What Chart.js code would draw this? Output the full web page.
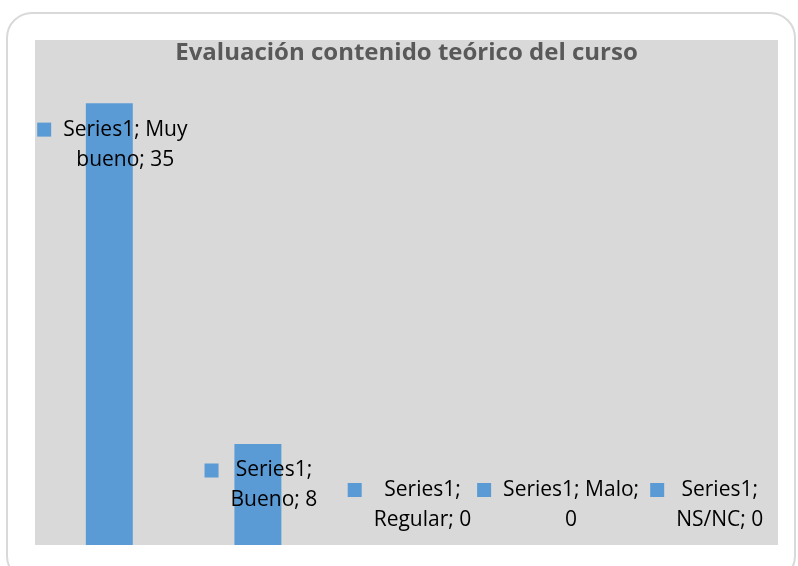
<!DOCTYPE html>
<html>
<head>
<meta charset="utf-8">
<script src="https://cdn.jsdelivr.net/npm/chart.js@4.4.0/dist/chart.umd.min.js"></script>
<style>
  html, body { margin: 0; padding: 0; background: #fff; }
  #wrap { position: relative; width: 798px; height: 566px; overflow: hidden; }
  #marco {
    position: absolute; left: 6px; top: 12px; width: 790px; height: 570px;
    border: 2px solid #d9d9d9; border-radius: 26px; box-sizing: border-box;
  }
  #grafico { position: absolute; left: 0; top: 0; }
</style>
</head>
<body>
<div id="wrap">
  <div id="marco"></div>
  <canvas id="grafico" width="798" height="566"></canvas>
</div>
<script>
var titulo = 'Evaluación contenido teórico del curso';
var serie = 'Series1';
var categorias = ['Muy bueno', 'Bueno', 'Regular', 'Malo', 'NS/NC'];
var valores = [35, 8, 0, 0, 0];

var azul = '#5b9bd5';
var fuenteEtiqueta = '21px "Open Sans"';
var fuenteTitulo = 'bold 24px "Open Sans"';

function partirTexto(ctx, texto, ancho) {
    var palabras = texto.split(' ');
    var lineas = [];
    var actual = '';
    palabras.forEach(function(p) {
        var prueba = actual ? actual + ' ' + p : p;
        if (actual && ctx.measureText(prueba).width > ancho) {
            lineas.push(actual);
            actual = p;
        } else {
            actual = prueba;
        }
    });
    if (actual) lineas.push(actual);
    return lineas;
}

var estiloExcel = {
    id: 'estiloExcel',
    beforeDraw: function(chart) {
        var ctx = chart.ctx;
        var a = chart.chartArea;
        ctx.save();
        ctx.fillStyle = '#d9d9d9';
        ctx.fillRect(a.left, a.top, a.right - a.left, a.bottom - a.top);
        ctx.restore();
    },
    afterDatasetsDraw: function(chart) {
        var ctx = chart.ctx;
        var a = chart.chartArea;
        ctx.save();
        // titulo
        ctx.font = fuenteTitulo;
        ctx.fillStyle = '#595959';
        ctx.textAlign = 'center';
        ctx.textBaseline = 'alphabetic';
        ctx.fillText(titulo, (a.left + a.right) / 2, a.top + 20);

        // etiquetas de datos con clave
        var meta = chart.getDatasetMeta(0);
        var anchoCat = (a.right - a.left) / categorias.length;
        ctx.font = fuenteEtiqueta;
        meta.data.forEach(function(barra, i) {
            var texto = serie + '; ' + categorias[i] + '; ' + valores[i];
            var lineas = partirTexto(ctx, texto, anchoCat);
            var anchoTxt = 0;
            lineas.forEach(function(l) { anchoTxt = Math.max(anchoTxt, ctx.measureText(l).width); });
            var clave = 14, sep = 12, interlinea = 30;
            var total = clave + sep + anchoTxt;
            var izq = barra.x - total / 2 + 3;
            var y1 = Math.min(barra.y + 26.5, a.bottom - 25 - interlinea * (lineas.length - 1));
            ctx.fillStyle = azul;
            ctx.fillRect(izq, y1 - clave / 2, clave, clave);
            ctx.fillStyle = '#000';
            ctx.textAlign = 'center';
            ctx.textBaseline = 'middle';
            var cx = izq + clave + sep + anchoTxt / 2;
            lineas.forEach(function(l, k) {
                ctx.fillText(l, cx, y1 + k * interlinea);
            });
        });
        ctx.restore();
    }
};

var grafico = new Chart(document.getElementById('grafico').getContext('2d'), {
    type: 'bar',
    data: {
        labels: categorias,
        datasets: [{
            label: serie,
            data: valores,
            backgroundColor: azul,
            borderWidth: 0,
            barPercentage: 0.316,
            categoryPercentage: 1
        }]
    },
    options: {
        responsive: false,
        animation: false,
        devicePixelRatio: 1,
        layout: { padding: { left: 35, top: 40, right: 20, bottom: 21 } },
        scales: {
            x: { display: false },
            y: { display: false, min: 0, max: 40 }
        },
        plugins: {
            legend: { display: false },
            tooltip: { enabled: false },
            title: { display: false }
        }
    },
    plugins: [estiloExcel]
});
</script>
</body>
</html>
